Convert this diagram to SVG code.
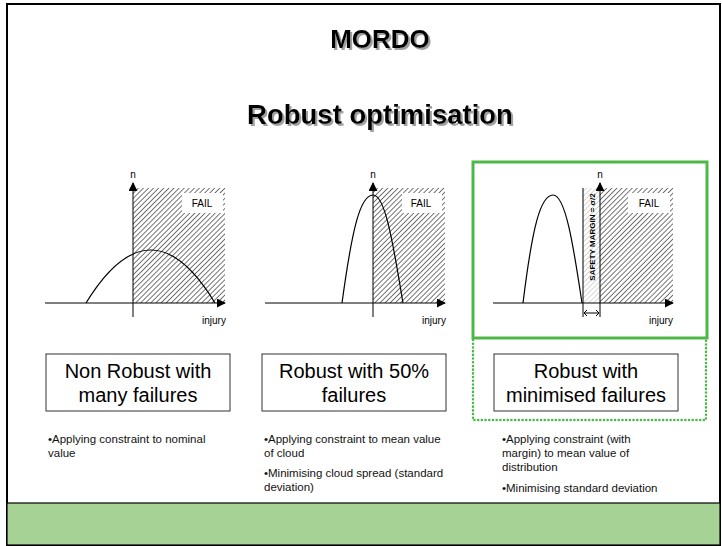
<svg xmlns="http://www.w3.org/2000/svg" width="722" height="546" viewBox="0 0 722 546">
<style>
.title{font-family:"Liberation Sans",Arial,sans-serif;font-weight:bold;text-anchor:middle;fill:#000;filter:url(#shadow)}
.ax{stroke:#000;stroke-width:1;fill:none}
.curve{stroke:#000;stroke-width:1.2;fill:none}
.small{font-family:"Liberation Sans",Arial,sans-serif;font-size:10px;fill:#000}
.box{fill:#fff;stroke:#333;stroke-width:1}
.boxt{font-family:"Liberation Sans",Arial,sans-serif;font-size:20px;text-anchor:middle;fill:#000}
.bul{font-family:"Liberation Sans",Arial,sans-serif;font-size:11.5px;fill:#111}
</style>
<defs>
<filter id="shadow" x="-10%" y="-30%" width="120%" height="160%">
<feOffset in="SourceAlpha" dx="2" dy="2" result="off"/>
<feFlood flood-color="#a0a0a0"/>
<feComposite in2="off" operator="in" result="sh"/>
<feMerge><feMergeNode in="sh"/><feMergeNode in="SourceGraphic"/></feMerge>
</filter>
<pattern id="hatch" width="3.6" height="3.6" patternUnits="userSpaceOnUse" patternTransform="rotate(45)">
<line x1="0" y1="0" x2="0" y2="3.6" stroke="#2a2a2a" stroke-width="1.3"/>
</pattern>
<pattern id="hatchLight" width="3.6" height="3.6" patternUnits="userSpaceOnUse" patternTransform="rotate(45)">
<line x1="0" y1="0" x2="0" y2="3.6" stroke="#c0c0c0" stroke-width="1.3"/>
</pattern>
<marker id="arr" viewBox="0 0 10 10" refX="9" refY="5" markerWidth="9" markerHeight="9" markerUnits="userSpaceOnUse" orient="auto">
<path d="M0,0 L10,5 L0,10 z" fill="#000"/>
</marker>
</defs>
<rect x="0" y="0" width="722" height="546" fill="#fff"/>
<rect x="7" y="4" width="713" height="541" fill="none" stroke="#000" stroke-width="2"/>
<rect id="footer" x="7" y="503" width="713" height="42" fill="#a6d395" stroke="#000" stroke-width="1.2"/>

<g id="title1">
<text class="title" x="380" y="48" font-size="26">MORDO</text>
</g>
<g id="title2">
<text class="title" x="380" y="124" font-size="27.5">Robust optimisation</text>
</g>

<g id="chart1">
<rect x="133" y="188" width="92" height="115" fill="url(#hatch)"/>
<rect x="182" y="193" width="41" height="20" fill="#fff"/>
<text class="small" x="202" y="207" text-anchor="middle">FAIL</text>
<line class="ax" x1="45" y1="303" x2="225" y2="303" marker-end="url(#arr)"/>
<line class="ax" x1="133" y1="317" x2="133" y2="183" marker-end="url(#arr)"/>
<path class="curve" d="M86,303 Q151,197 215,303"/>
<text class="small" x="133" y="178" text-anchor="middle">n</text>
<text class="small" x="202" y="324">injury</text>
</g>

<g id="chart2">
<rect x="373" y="188" width="72" height="115" fill="url(#hatch)"/>
<rect x="402" y="193" width="40" height="20" fill="#fff"/>
<text class="small" x="421" y="207" text-anchor="middle">FAIL</text>
<line class="ax" x1="265" y1="303" x2="445" y2="303" marker-end="url(#arr)"/>
<line class="ax" x1="373" y1="317" x2="373" y2="183" marker-end="url(#arr)"/>
<path class="curve" d="M342,303 C352,230 360,195 373,195 C386,195 394,250 403,303"/>
<text class="small" x="373" y="178" text-anchor="middle">n</text>
<text class="small" x="422" y="324">injury</text>
</g>

<g id="chart3">
<rect x="473" y="162" width="234" height="176" fill="none" stroke="#4cb848" stroke-width="3"/>
<rect x="583" y="188" width="17" height="115" fill="url(#hatchLight)"/>
<rect x="600" y="188" width="73" height="115" fill="url(#hatch)"/>
<rect x="628" y="193" width="42" height="20" fill="#fff"/>
<text class="small" x="649" y="207" text-anchor="middle">FAIL</text>
<line class="ax" x1="493" y1="303" x2="673" y2="303" marker-end="url(#arr)"/>
<line class="ax" x1="600" y1="317" x2="600" y2="183" marker-end="url(#arr)"/>
<line class="ax" x1="583" y1="188" x2="583" y2="317"/>
<path class="curve" d="M523,303 C532,230 540,195 553,195 C566,195 574,250 582,303"/>
<text font-family="Liberation Sans, Arial, sans-serif" font-size="8" font-weight="bold" fill="#000" text-anchor="middle" transform="translate(594.5,237) rotate(-90)">SAFETY MARGIN = σ/2</text>
<path class="ax" d="M584,313 H599 M587,310 L584,313 L587,316 M596,310 L599,313 L596,316"/>
<text class="small" x="649" y="324">injury</text>
<text class="small" x="600" y="178" text-anchor="middle">n</text>
</g>

<g id="dotted">
<path d="M473,340 V420 H706 V340" fill="none" stroke="#4cb848" stroke-width="2.5" stroke-dasharray="0.1,3.6" stroke-linecap="round"/>
</g>

<g id="box1">
<rect class="box" x="46" y="354" width="184" height="57"/>
<text class="boxt" x="138" y="378">Non Robust with</text>
<text class="boxt" x="138" y="402">many failures</text>
</g>
<g id="box2">
<rect class="box" x="262" y="354" width="184" height="57"/>
<text class="boxt" x="354" y="378">Robust with 50%</text>
<text class="boxt" x="354" y="402">failures</text>
</g>
<g id="box3">
<rect class="box" x="494" y="354" width="184" height="57"/>
<text class="boxt" x="586" y="378">Robust with</text>
<text class="boxt" x="586" y="402">minimised failures</text>
</g>

<g id="notes1">
<text class="bul" x="48" y="443">•Applying constraint to nominal</text>
<text class="bul" x="48" y="457">value</text>
</g>
<g id="notes2">
<text class="bul" x="264" y="443">•Applying constraint to mean value</text>
<text class="bul" x="264" y="457">of cloud</text>
<text class="bul" x="264" y="477">•Minimising cloud spread (standard</text>
<text class="bul" x="264" y="491">deviation)</text>
</g>
<g id="notes3">
<text class="bul" x="502" y="443">•Applying constraint (with</text>
<text class="bul" x="502" y="457">margin) to mean value of</text>
<text class="bul" x="502" y="471">distribution</text>
<text class="bul" x="502" y="492">•Minimising standard deviation</text>
</g>
</svg>
